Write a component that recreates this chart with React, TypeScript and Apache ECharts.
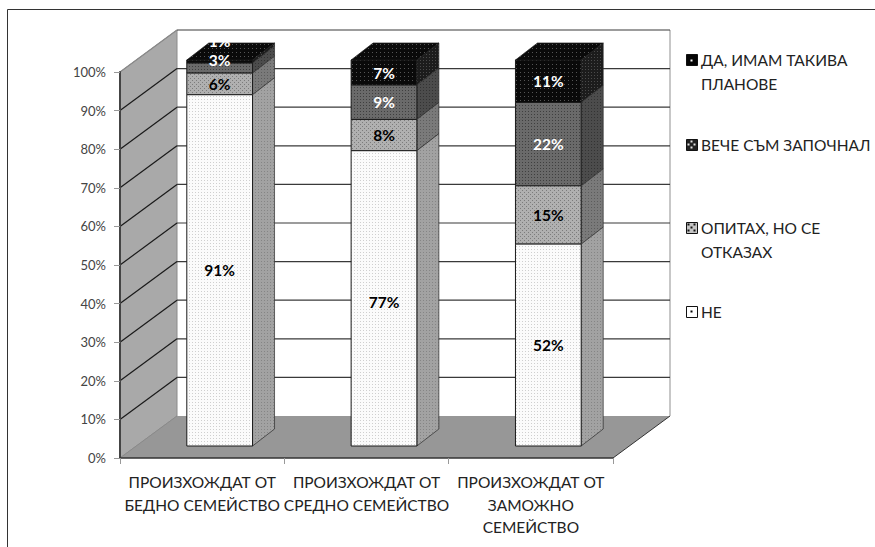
import React, { useEffect, useRef } from "react";
import * as echarts from "echarts";

const categories = [
  "ПРОИЗХОЖДАТ ОТ\nБЕДНО СЕМЕЙСТВО",
  "ПРОИЗХОЖДАТ ОТ\nСРЕДНО СЕМЕЙСТВО",
  "ПРОИЗХОЖДАТ ОТ\nЗАМОЖНО\nСЕМЕЙСТВО",
];
const seriesNames = ["НЕ", "ОПИТАХ, НО СЕ\nОТКАЗАХ", "ВЕЧЕ СЪМ ЗАПОЧНАЛ", "ДА, ИМАМ ТАКИВА\nПЛАНОВЕ"];
const neValues = [91, 76.5, 52.3];
const triedValues = [5.6, 8.1, 15.1];
const startedValues = [2.6, 8.9, 21.6];
const plansValues = [0.8, 6.5, 11];
const neLabels = ["91%", "77%", "52%"];
const triedLabels = ["6%", "8%", "15%"];
const startedLabels = ["3%", "9%", "22%"];
const plansLabels = ["1%", "7%", "11%"];
const yTicks = [0, 10, 20, 30, 40, 50, 60, 70, 80, 90, 100];

const FONT = "Lato, 'Open Sans', 'Noto Sans', sans-serif";
const WALL_DX = 57;
const WALL_DY = -42;
const BAR_OFFSET_DX = 17.5;
const BAR_OFFSET_DY = -12;
const BAR_DEPTH_DX = 22;
const BAR_DEPTH_DY = -17;
const BAR_FRACTION = 0.4;
const labelShift: Record<string, number> = { "3:0": -21, "2:0": -8, "0:1": 4 };

function pattern(bg: string, dot: string, step: number, checker = false) {
  const c = document.createElement("canvas");
  c.width = step;
  c.height = step;
  const g = c.getContext("2d") as CanvasRenderingContext2D;
  g.fillStyle = bg;
  g.fillRect(0, 0, step, step);
  g.fillStyle = dot;
  g.fillRect(0, 0, 1, 1);
  if (checker) g.fillRect(Math.floor(step / 2), Math.floor(step / 2), 1, 1);
  return { image: c, repeat: "repeat" };
}

function iconPattern(bg: string, dot: string, spots: number[][]) {
  const c = document.createElement("canvas");
  c.width = 11;
  c.height = 11;
  const g = c.getContext("2d") as CanvasRenderingContext2D;
  g.fillStyle = bg;
  g.fillRect(0, 0, 11, 11);
  g.fillStyle = dot;
  spots.forEach(([x, y]) => g.fillRect(x, y, 2, 2));
  return { image: c, repeat: "repeat" };
}

export default function App() {
  const ref = useRef<HTMLDivElement>(null);
  useEffect(() => {
    const chart = echarts.init(ref.current as HTMLDivElement, undefined, { renderer: "svg" });

    const fills = [
      { front: pattern("#fbfbfb", "#cfcfcf", 3), side: pattern("#a2a2a2", "#858585", 3), label: "#000" },
      { front: pattern("#b0b0b0", "#7c7c7c", 4, true), side: pattern("#7a7a7a", "#5c5c5c", 3), label: "#000" },
      { front: pattern("#6a6a6a", "#3f3f3f", 3), side: pattern("#4c4c4c", "#333333", 3), label: "#fff" },
      { front: pattern("#0a0a0a", "#555555", 4), side: pattern("#1c1c1c", "#4a4a4a", 3), label: "#fff" },
    ];
    const stacks = [neValues, triedValues, startedValues, plansValues];
    const labels = [neLabels, triedLabels, startedLabels, plansLabels];

    const barSeries = stacks.map((values, si) => {
      const data = values.map((v, i) => {
        let base = 0;
        for (let k = 0; k < si; k++) base += stacks[k][i];
        return [i, base + v, base];
      });
      return {
        type: "custom",
        name: seriesNames[si],
        z: 10 - si,
        clip: false,
        encode: { x: 0, y: 1 },
        data,
        renderItem: (_: any, api: any) => {
          const i = api.value(0);
          const top = api.coord([i, api.value(1)]);
          const bottom = api.coord([i, api.value(2)]);
          const w = api.size([1, 0])[0] * BAR_FRACTION;
          const x0 = top[0] - w / 2 + BAR_OFFSET_DX;
          const x1 = x0 + w;
          const yT = top[1] + BAR_OFFSET_DY;
          const yB = bottom[1] + BAR_OFFSET_DY;
          const stroke = "#1a1a1a";
          const children: any[] = [
            {
              type: "polygon",
              shape: { points: [[x1, yT], [x1 + BAR_DEPTH_DX, yT + BAR_DEPTH_DY], [x1 + BAR_DEPTH_DX, yB + BAR_DEPTH_DY], [x1, yB]] },
              style: { fill: fills[si].side, stroke: "#2a2a2a", lineWidth: 0.7 },
            },
            {
              type: "rect",
              shape: { x: x0, y: yT, width: w, height: yB - yT },
              style: { fill: fills[si].front, stroke, lineWidth: 1 },
            },
          ];
          if (si === stacks.length - 1) {
            children.push({
              type: "polygon",
              shape: { points: [[x0, yT], [x0 + BAR_DEPTH_DX, yT + BAR_DEPTH_DY], [x1 + BAR_DEPTH_DX, yT + BAR_DEPTH_DY], [x1, yT]] },
              style: { fill: fills[si].front, stroke, lineWidth: 0.7 },
            });
          }
          children.push({
            type: "text",
            z2: 50,
            x: (x0 + x1) / 2,
            y: (yT + yB) / 2 + (labelShift[`${si}:${i}`] || 0),
            style: {
              text: labels[si][i],
              fill: fills[si].label,
              fontFamily: FONT,
              fontSize: 15.5,
              fontWeight: "bold",
              align: "center",
              verticalAlign: "middle",
            },
          });
          return { type: "group", children };
        },
      };
    });

    const wallSeries = {
      type: "custom",
      name: "walls",
      z: 1,
      clip: false,
      silent: true,
      encode: { x: 0, y: 1 },
      data: yTicks.map((t) => [0, t]),
      renderItem: (_: any, api: any) => {
        const t = api.value(1);
        const p = api.coord([0, t]);
        const band = api.size([1, 0])[0];
        const xL = p[0] - band / 2;
        const xR = api.coord([categories.length - 1, t])[0] + band / 2;
        const y = p[1];
        const children: any[] = [];
        if (t === 0) {
          const yTop = api.coord([0, 100])[1];
          children.push(
            {
              type: "polygon",
              z2: 0,
              shape: { points: [[xL, yTop], [xL + WALL_DX, yTop + WALL_DY], [xL + WALL_DX, y + WALL_DY], [xL, y]] },
              style: { fill: "#a9a9a9", stroke: "#8a8a8a", lineWidth: 1 },
            },
            {
              type: "polygon",
              z2: 0,
              shape: { points: [[xL, y], [xL + WALL_DX, y + WALL_DY], [xR + WALL_DX, y + WALL_DY], [xR, y]] },
              style: { fill: "#979797" },
            },
            {
              type: "line",
              z2: 1,
              shape: { x1: xR, y1: y, x2: xR + WALL_DX, y2: y + WALL_DY },
              style: { stroke: "#333", lineWidth: 1 },
            },
            {
              type: "line",
              z2: 1,
              shape: { x1: xL, y1: y, x2: xL + WALL_DX, y2: y + WALL_DY },
              style: { stroke: "#8a8a8a", lineWidth: 1 },
            },
            {
              type: "line",
              z2: 1,
              shape: { x1: xR + WALL_DX, y1: yTop + WALL_DY, x2: xR + WALL_DX, y2: y + WALL_DY },
              style: { stroke: "#8f8f8f", lineWidth: 1 },
            }
          );
        } else {
          children.push(
            {
              type: "line",
              z2: 1,
              shape: { x1: xL, y1: y, x2: xL + WALL_DX, y2: y + WALL_DY },
              style: { stroke: t === 100 ? "#8a8a8a" : "#1a1a1a", lineWidth: 1.2 },
            },
            {
              type: "line",
              z2: 1,
              shape: { x1: xL + WALL_DX, y1: y + WALL_DY, x2: xR + WALL_DX, y2: y + WALL_DY },
              style: { stroke: "#3a3a3a", lineWidth: 1.2 },
            }
          );
        }
        return { type: "group", children };
      },
    };

    const legendOrder = [3, 2, 1, 0];
    const legendRows = [54, 139, 222, 306];
    const legendFills = [
      iconPattern("#ffffff", "#000000", [[4, 4]]),
      iconPattern("#c4c4c4", "#111111", [[1, 1], [7, 1], [4, 4], [1, 7], [7, 7]]),
      iconPattern("#222222", "#e4e4e4", [[4, 1], [1, 4], [7, 4], [4, 7]]),
      iconPattern("#050505", "#ffffff", [[4, 5]]),
    ];

    chart.setOption({
      animation: false,
      backgroundColor: "#fff",
      grid: { left: 120, width: 493, top: 72, height: 386 },
      xAxis: {
        type: "category",
        data: categories,
        z: 5,
        axisLine: { lineStyle: { color: "#333", width: 1.5 } },
        axisTick: { show: true, alignWithLabel: false, length: 6, lineStyle: { color: "#999" } },
        axisLabel: { interval: 0, margin: 13, color: "#222", fontFamily: FONT, fontSize: 15.5, lineHeight: 22.5 },
      },
      yAxis: {
        type: "value",
        min: 0,
        max: 100,
        interval: 10,
        z: 5,
        splitLine: { show: false },
        axisLine: { show: true, lineStyle: { color: "#444", width: 2 } },
        axisTick: { show: true, length: 6, lineStyle: { color: "#999" } },
        axisLabel: { formatter: "{value}%", margin: 14, color: "#444", fontFamily: FONT, fontSize: 13 },
      },
      graphic: [
        {
          type: "polyline",
          silent: true,
          shape: { points: [[7.5, 547], [7.5, 9.5], [875, 9.5]] },
          style: { stroke: "#333", lineWidth: 1, fill: "none" },
        },
        ...legendOrder.flatMap((si, row) => [
          {
            type: "rect",
            silent: true,
            x: 686.5,
            y: legendRows[row] + 0.5,
            shape: { x: 0, y: 0, width: 11, height: 11 },
            style: { fill: legendFills[si], stroke: "#111", lineWidth: 1 },
          },
          {
            type: "text",
            silent: true,
            x: 701,
            y: legendRows[row] - 6,
            style: {
              text: seriesNames[si],
              fill: "#222",
              fontFamily: FONT,
              fontSize: 15.5,
              lineHeight: 24,
              align: "left",
              verticalAlign: "top",
            },
          },
        ]),
      ],
      series: [wallSeries, ...barSeries],
    });
    return () => chart.dispose();
  }, []);
  return <div ref={ref} style={{ position: "fixed", left: 0, top: 0, width: 875, height: 547 }} />;
}
